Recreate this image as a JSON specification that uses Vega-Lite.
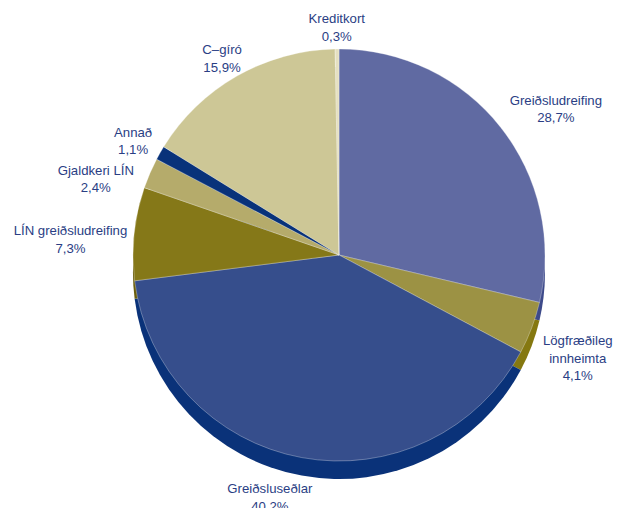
{
  "$schema": "https://vega.github.io/schema/vega-lite/v6.json",
  "width": 578,
  "height": 506,
  "autosize": {"type": "none"},
  "padding": {"left": 50, "top": 2, "right": 0, "bottom": 0},
  "background": "#ffffff",
  "config": {"view": {"stroke": null}, "text": {"font": "Liberation Sans", "fontSize": 13.2, "lineHeight": 17.5, "fill": "#2A3E84", "align": "center", "baseline": "middle", "lineBreak": "\n"}},
  "data": {
    "values": [
      {"idx": 1, "category": "Greiðsludreifing", "value": 28.7, "label": "Greiðsludreifing\n28,7%"},
      {"idx": 2, "category": "Lögfræðileg innheimta", "value": 4.1, "label": "Lögfræðileg\ninnheimta\n4,1%"},
      {"idx": 3, "category": "Greiðsluseðlar", "value": 40.2, "label": "Greiðsluseðlar\n40,2%"},
      {"idx": 4, "category": "LÍN greiðsludreifing", "value": 7.3, "label": "LÍN greiðsludreifing\n7,3%"},
      {"idx": 5, "category": "Gjaldkeri LÍN", "value": 2.4, "label": "Gjaldkeri LÍN\n2,4%"},
      {"idx": 6, "category": "Annað", "value": 1.1, "label": "Annað\n1,1%"},
      {"idx": 7, "category": "C–gíró", "value": 15.9, "label": "C–gíró\n15,9%"},
      {"idx": 8, "category": "Kreditkort", "value": 0.3, "label": "Kreditkort\n0,3%"}
    ]
  },
  "encoding": {
    "theta": {"field": "value", "type": "quantitative", "stack": true},
    "order": {"field": "idx", "type": "quantitative"}
  },
  "layer": [
    {
      "mark": {"type": "arc", "outerRadius": 206, "yOffset": 18},
      "encoding": {
        "color": {
          "field": "category", "type": "nominal", "legend": null,
          "scale": {
            "domain": ["Greiðsludreifing", "Lögfræðileg innheimta", "Greiðsluseðlar", "LÍN greiðsludreifing", "Gjaldkeri LÍN", "Annað", "C–gíró", "Kreditkort"],
            "range": ["#3D4A8A", "#857810", "#0A3279", "#6A5E0C", "#8A8040", "#06286A", "#A8A070", "#BFBA98"]
          }
        }
      }
    },
    {
      "mark": {"type": "arc", "outerRadius": 206, "stroke": "#ffffff", "strokeWidth": 0.5, "strokeOpacity": 0.6},
      "encoding": {
        "fill": {
          "field": "category", "type": "nominal", "legend": null,
          "scale": {
            "domain": ["Greiðsludreifing", "Lögfræðileg innheimta", "Greiðsluseðlar", "LÍN greiðsludreifing", "Gjaldkeri LÍN", "Annað", "C–gíró", "Kreditkort"],
            "range": ["#606AA2", "#9C9244", "#364E8C", "#857818", "#B5AB6B", "#08327A", "#CDC796", "#E5E0C0"]
          }
        }
      }
    },
    {
      "mark": {"type": "text", "radius": 236},
      "encoding": {
        "text": {"field": "label", "type": "nominal"},
        "opacity": {"condition": {"test": "indexof(['Kreditkort','C–gíró'], datum.category) >= 0", "value": 1}, "value": 0}
      }
    },
    {
      "mark": {"type": "text", "radius": 237, "dy": -5},
      "encoding": {
        "text": {"field": "label", "type": "nominal"},
        "opacity": {"condition": {"test": "datum.category === 'Annað'", "value": 1}, "value": 0}
      }
    },
    {
      "mark": {"type": "text", "radius": 238, "dx": -26},
      "encoding": {
        "text": {"field": "label", "type": "nominal"},
        "opacity": {"condition": {"test": "datum.category === 'Greiðsluseðlar'", "value": 1}, "value": 0}
      }
    },
    {
      "mark": {"type": "text", "radius": 252, "dx": 3, "dy": -3},
      "encoding": {
        "text": {"field": "label", "type": "nominal"},
        "opacity": {"condition": {"test": "datum.category === 'Lögfræðileg innheimta'", "value": 1}, "value": 0}
      }
    },
    {
      "mark": {"type": "text", "radius": 265, "dy": 21},
      "encoding": {
        "text": {"field": "label", "type": "nominal"},
        "opacity": {"condition": {"test": "datum.category === 'Gjaldkeri LÍN'", "value": 1}, "value": 0}
      }
    },
    {
      "mark": {"type": "text", "radius": 270, "dy": 4},
      "encoding": {
        "text": {"field": "label", "type": "nominal"},
        "opacity": {"condition": {"test": "datum.category === 'LÍN greiðsludreifing'", "value": 1}, "value": 0}
      }
    },
    {
      "mark": {"type": "text", "radius": 265, "dx": 9, "dy": 10},
      "encoding": {
        "text": {"field": "label", "type": "nominal"},
        "opacity": {"condition": {"test": "datum.category === 'Greiðsludreifing'", "value": 1}, "value": 0}
      }
    }
  ],
  "resolve": {"scale": {"color": "independent", "fill": "independent"}}
}
